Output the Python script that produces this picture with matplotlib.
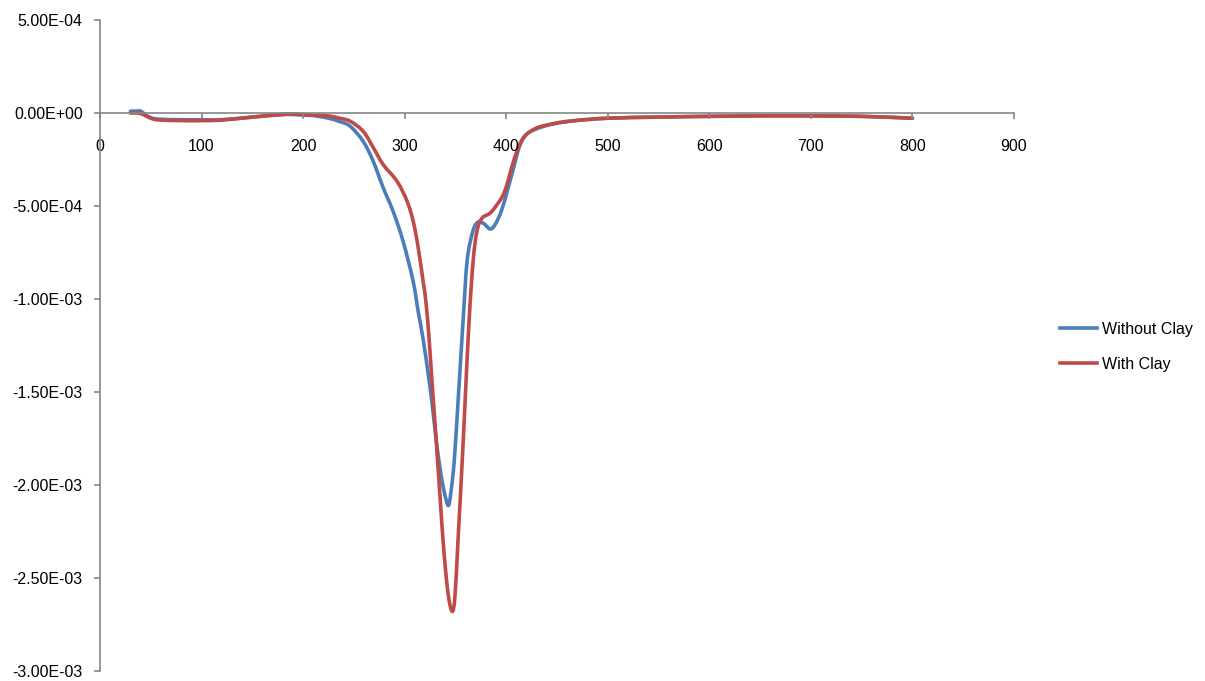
import matplotlib
matplotlib.use("Agg")
import matplotlib.pyplot as plt
from matplotlib.ticker import FuncFormatter, MultipleLocator
from matplotlib.path import Path
from matplotlib.patches import PathPatch
from matplotlib.lines import Line2D
import numpy as np

temp_without = [30, 35, 40, 45, 50, 57, 80, 100, 120, 150, 180, 204, 215, 226.6, 236, 246.3,
                259.1, 269, 278.8, 288.7, 298.5, 308.4, 313.3, 318.2, 323.2, 327.1, 331, 335,
                338.9, 342.9, 345.5, 348.8, 352.7, 357.6, 361.6, 367.5, 372.4, 378, 384.2, 389,
                395, 401, 407, 413, 420, 430, 445, 470, 500, 550, 600, 650, 700, 750, 800]
dtg_without = [0.1, 0.1, 0.1, -0.1, -0.25, -0.33, -0.36, -0.36, -0.36, -0.22, -0.08, -0.12,
               -0.18, -0.30, -0.46, -0.71, -1.52, -2.59, -4.01, -5.30, -6.91, -9.06, -10.67,
               -12.17, -14.05, -15.67, -17.55, -19.17, -20.35, -21.1, -20.4, -18.7, -15.4,
               -11.1, -7.9, -6.3, -5.86, -5.95, -6.24, -6.0, -5.3, -4.2, -3.0, -1.8, -1.15,
               -0.85, -0.6, -0.4, -0.28, -0.22, -0.18, -0.15, -0.15, -0.18, -0.28]

temp_with = [30, 35, 40, 45, 50, 57, 80, 100, 120, 150, 180, 190, 204, 215, 226.6, 236, 246.3,
             259.1, 269, 278.8, 292.6, 302.5, 308.4, 313.3, 318.2, 321.2, 324.1, 327.1, 331,
             335, 338.9, 342.9, 346.8, 349.5, 352.5, 356.7, 359.6, 363.5, 367.5, 371.4, 376.4,
             384.2, 392.1, 397, 401, 406, 411, 416, 421, 430, 440, 460, 500, 550, 600, 650,
             700, 750, 800]
dtg_with = [0.0, 0.0, -0.03, -0.15, -0.28, -0.37, -0.41, -0.41, -0.38, -0.22, -0.08, -0.05,
            -0.1, -0.12, -0.17, -0.28, -0.44, -0.98, -1.85, -2.77, -3.68, -4.76, -5.83, -7.23,
            -9.06, -10.29, -12.18, -14.6, -17.55, -20.78, -23.74, -25.89, -26.8, -26.0, -23.0,
            -18.7, -15.4, -11.1, -7.9, -6.3, -5.64, -5.38, -4.84, -4.4, -3.8, -2.8, -2.0, -1.4,
            -1.1, -0.8, -0.65, -0.45, -0.28, -0.22, -0.18, -0.16, -0.16, -0.18, -0.28]

series_names = ["Without Clay", "With Clay"]
colors = ["#4A7EBB", "#BE4B48"]

plt.rcParams['font.family'] = ['Liberation Sans', 'DejaVu Sans']


def smooth_path(xs, ys):
    """Excel-style smoothed line: cubic Bezier through the data points (Catmull-Rom tangents)."""
    p = np.column_stack([xs, ys]).astype(float)
    n = len(p)
    verts = [p[0]]
    codes = [Path.MOVETO]
    for i in range(n - 1):
        p0 = p[i - 1] if i > 0 else p[i]
        p1 = p[i]
        p2 = p[i + 1]
        p3 = p[i + 2] if i + 2 < n else p[i + 1]
        c1 = p1 + (p2 - p0) / 6.0
        c2 = p2 - (p3 - p1) / 6.0
        verts += [c1, c2, p2]
        codes += [Path.CURVE4] * 3
    return Path(verts, codes)


fig = plt.figure(figsize=(12.05, 6.81), dpi=100)
ax = fig.add_axes([100/1205, 10/681, 914/1205, 651/681])

for xs, ys, c in [(temp_without, dtg_without, colors[0]), (temp_with, dtg_with, colors[1])]:
    path = smooth_path(xs, np.array(ys) * 1e-4)
    ax.add_patch(PathPatch(path, fill=False, edgecolor=c, lw=2.6, joinstyle='round',
                           capstyle='round', transform=ax.transData))

ax.set_xlim(0, 900)
ax.set_ylim(-3e-3, 5e-4)
ax.xaxis.set_major_locator(MultipleLocator(100))
ax.yaxis.set_major_locator(MultipleLocator(5e-4))
ax.yaxis.set_major_formatter(FuncFormatter(lambda v, p: f"{v:.2E}"))
ax.xaxis.set_major_formatter(FuncFormatter(lambda v, p: f"{int(round(v))}"))

for s in ['top', 'right']:
    ax.spines[s].set_visible(False)
ax.spines['bottom'].set_position(('data', 0))
for s in ['left', 'bottom']:
    ax.spines[s].set_color('#868686')
    ax.spines[s].set_linewidth(1.2)
ax.tick_params(axis='both', direction='out', length=4.5, width=1.2, color='#868686',
               labelsize=11.5, labelcolor='black')
ax.tick_params(axis='x', pad=14.5)
ax.tick_params(axis='y', pad=8)
ax.patch.set_visible(False)

handles = [Line2D([], [], color=colors[0], lw=2.6), Line2D([], [], color=colors[1], lw=2.6)]
fig.legend(handles, series_names, loc='center left', bbox_to_anchor=(1046/1205, 1 - 347/681),
           frameon=False, fontsize=11.5, handlelength=2.3, handletextpad=0.3,
           labelspacing=1.25)

fig.savefig("out.png", dpi=100)
